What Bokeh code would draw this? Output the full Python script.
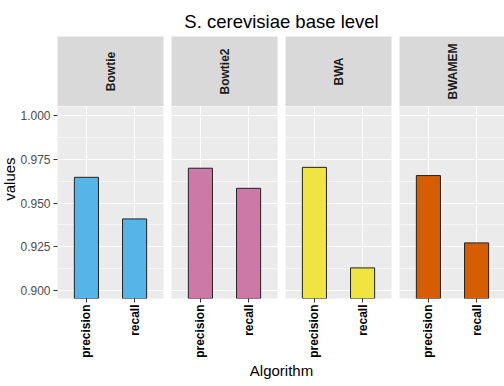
import math

from bokeh.core.properties import value
from bokeh.embed import file_html
from bokeh.layouts import column, row
from bokeh.models import (ColumnDataSource, FixedTicker, Grid, PrintfTickFormatter,
                          Range1d, SingleIntervalTicker)
from bokeh.plotting import figure
from bokeh.resources import INLINE

# ---- data -------------------------------------------------------------
title_text = "S. cerevisiae base level"
algorithms = ["Bowtie", "Bowtie2", "BWA", "BWAMEM"]
metrics = ["precision", "recall"]
precision = [0.9647, 0.9699, 0.9704, 0.9657]
recall = [0.9409, 0.9584, 0.9129, 0.9272]
fill_colors = ["#56B4E9", "#CC79A7", "#F0E442", "#D55E00"]
y_label = "values"
x_label = "Algorithm"

# ---- styling ----------------------------------------------------------
FONT = "Liberation Sans"
PANEL_BG = "#EBEBEB"
STRIP_BG = "#D9D9D9"
FRAME_W = 106
FRAME_H = 192
BOTTOM = 62
LEFT = 57
YLAB_W = 17
GAP = 4
Y_MIN, Y_MAX = 0.8954, 1.0052

# discrete positions 1..n with 0.6 expansion on each side
positions = list(range(1, len(metrics) + 1))
X_MIN, X_MAX = 1 - 0.6, len(metrics) + 0.6


def borders(i, first_left):
    left = first_left if i == 0 else GAP
    right = GAP if i < len(algorithms) - 1 else 0
    return left, right


def bare(p):
    p.outline_line_color = None
    p.border_fill_color = "white"
    p.grid.visible = False
    return p


def text_fig(w, h):
    return bare(figure(width=w, height=h, x_range=Range1d(0, w), y_range=Range1d(0, h),
                       x_axis_location=None, y_axis_location=None, toolbar_location=None,
                       output_backend="svg", min_border=0, background_fill_color="white"))


# ---- title ------------------------------------------------------------
title_fig = text_fig(504, 36)
title_fig.text(x=[281], y=[15], text=[title_text], text_font=value(FONT), text_font_size="18.5px",
               text_color="#000000", text_align="center", text_baseline="middle")

# ---- y axis title -----------------------------------------------------
ylab_fig = text_fig(YLAB_W, FRAME_H + BOTTOM)
ylab_fig.text(x=[8.5], y=[BOTTOM + FRAME_H / 2], text=[y_label], angle=math.pi / 2,
              text_font=value(FONT), text_font_size="15px", text_color="#000000",
              text_align="center", text_baseline="middle")

# ---- facet strips and panels --------------------------------------------
strips = []
panels = []
y_ticker = SingleIntervalTicker(interval=0.025, num_minor_ticks=2)
x_ticker = FixedTicker(ticks=positions, minor_ticks=[])

for i, alg in enumerate(algorithms):
    left, right = borders(i, LEFT)
    s = bare(figure(width=left + FRAME_W + right, height=70,
                    x_range=Range1d(0, 1), y_range=Range1d(0, 1),
                    x_axis_location=None, y_axis_location=None, toolbar_location=None,
                    output_backend="svg", min_border_left=left, min_border_right=right,
                    min_border_top=0, min_border_bottom=0, background_fill_color=STRIP_BG))
    s.text(x=[0.5], y=[0.5], text=[alg], angle=math.pi / 2, text_font=value(FONT),
           text_font_size="12px", text_font_style="bold", text_color="#1A1A1A",
           text_align="center", text_baseline="middle")
    strips.append(s)

    left, right = borders(i, LEFT - YLAB_W)
    p = figure(width=left + FRAME_W + right, height=FRAME_H + BOTTOM,
               x_range=Range1d(X_MIN, X_MAX),
               y_range=Range1d(Y_MIN, Y_MAX),
               y_axis_location="left" if i == 0 else None,
               toolbar_location=None, output_backend="svg",
               min_border_left=left, min_border_right=right,
               min_border_top=0, min_border_bottom=BOTTOM,
               background_fill_color=PANEL_BG)
    p.outline_line_color = None
    p.border_fill_color = "white"

    src = ColumnDataSource(dict(pos=positions, metric=metrics, val=[precision[i], recall[i]]))
    p.vbar(x="pos", top="val", bottom=0, width=0.5, source=src,
           fill_color=fill_colors[i], line_color="#222222", line_width=1)

    # grid lines
    p.center = [r for r in p.center if not isinstance(r, Grid)]
    p.add_layout(Grid(dimension=1, ticker=y_ticker, grid_line_color="white", grid_line_width=1.1,
                      minor_grid_line_color="white", minor_grid_line_width=0.55), "center")
    p.add_layout(Grid(dimension=0, ticker=x_ticker, grid_line_color="white",
                      grid_line_width=1.1), "center")

    # x axis
    xa = p.xaxis[0]
    xa.ticker = x_ticker
    xa.major_label_overrides = {pos: m for pos, m in zip(positions, metrics)}
    xa.axis_line_color = None
    xa.major_tick_line_color = "#333333"
    xa.major_tick_in = 0
    xa.major_tick_out = 4
    xa.minor_tick_line_color = None
    xa.major_label_orientation = math.pi / 2
    xa.major_label_standoff = 2
    xa.major_label_text_font = FONT
    xa.major_label_text_font_size = "12px"
    xa.major_label_text_font_style = "bold"
    xa.major_label_text_color = "#000000"

    if i == 0:
        ya = p.yaxis[0]
        ya.ticker = y_ticker
        ya.formatter = PrintfTickFormatter(format="%.3f")
        ya.axis_line_color = None
        ya.major_tick_line_color = "#333333"
        ya.major_tick_in = 0
        ya.major_tick_out = 4
        ya.minor_tick_line_color = None
        ya.major_label_standoff = 3
        ya.major_label_text_font = FONT
        ya.major_label_text_font_size = "12px"
        ya.major_label_text_color = "#4D4D4D"
    panels.append(p)

# ---- shared x label -----------------------------------------------------
xlab_fig = text_fig(504, 26)
xlab_fig.text(x=[281], y=[16], text=[x_label], text_font=value(FONT), text_font_size="15px",
              text_color="#000000", text_align="center", text_baseline="middle")

layout = column(title_fig,
                row(*strips, spacing=0),
                row(ylab_fig, *panels, spacing=0),
                xlab_fig, spacing=0)

open("out.html", "w").write(file_html(layout, INLINE))
